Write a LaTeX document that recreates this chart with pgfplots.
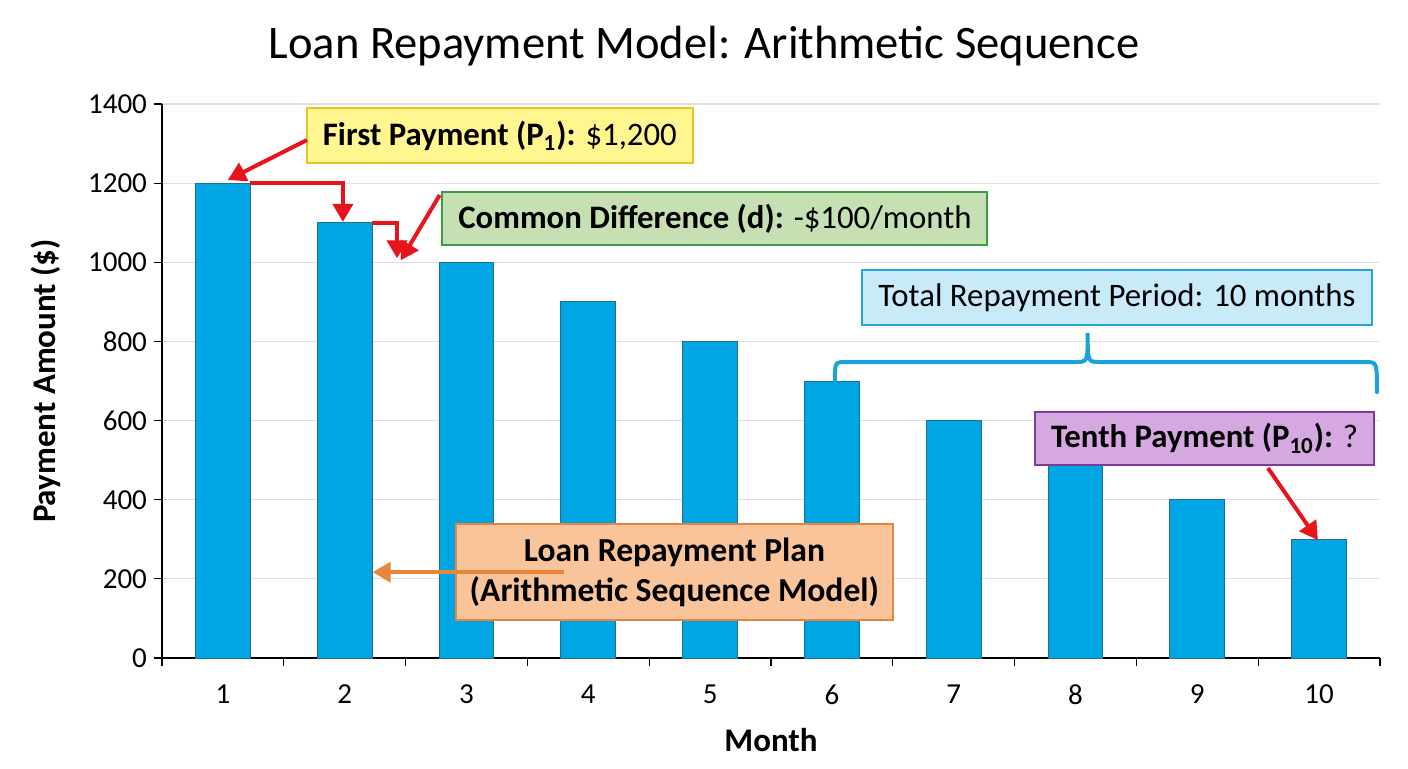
\documentclass[border=0pt]{standalone}
\usepackage{fontspec}
\setmainfont{Carlito}
\usepackage{pgfplots}
\pgfplotsset{compat=1.18}
\usetikzlibrary{arrows.meta}
\definecolor{barblue}{HTML}{00A6E4}
\definecolor{baredge}{HTML}{1F6E9C}
\definecolor{ylwfill}{HTML}{FFF68F}
\definecolor{ylwedge}{HTML}{E8C420}
\definecolor{grnfill}{HTML}{C6E0B4}
\definecolor{grnedge}{HTML}{3A9E47}
\definecolor{bluefill}{HTML}{C9EAF8}
\definecolor{blueedge}{HTML}{2AA5DA}
\definecolor{purpfill}{HTML}{D5A8E2}
\definecolor{purpedge}{HTML}{7D3C98}
\definecolor{orgfill}{HTML}{F9C49A}
\definecolor{orgedge}{HTML}{E8853D}
\definecolor{arrred}{HTML}{E8141B}
\definecolor{bracecol}{HTML}{1BA1DB}
\begin{document}
\begin{tikzpicture}
\path[use as bounding box] (0,0) rectangle (704pt,384pt);
\node[font=\fontsize{23.3}{27}\selectfont] at (352pt,361pt) {Loan Repayment Model: Arithmetic Sequence};
\begin{axis}[
  at={(81pt,55pt)}, anchor=south west,
  scale only axis,
  width=609pt, height=277pt,
  xmin=0.5, xmax=10.5,
  ymin=0, ymax=1400,
  xtick={1,...,10},
  minor xtick={0.5,1.5,...,10.5},
  ytick={0,200,...,1400},
  major x tick style={draw=none},
  minor tick length=4pt,
  major tick length=4pt,
  tick align=outside,
  tick style={black, line width=0.6pt},
  axis x line*=bottom,
  axis y line*=left,
  axis line style={black, line width=0.8pt, -},
  ymajorgrids,
  grid style={gray!25, line width=0.6pt},
  /pgf/number format/assume math mode=true,
  /pgf/number format/1000 sep={},
  ticklabel style={font=\fontsize{14.5}{16}\selectfont},
  xticklabel style={yshift=-6pt},
  xlabel={\textbf{Month}},
  ylabel={\textbf{Payment Amount (\$)}},
  label style={font=\fontsize{16.5}{19}\selectfont},
  xlabel style={yshift=-5pt},
  ylabel style={yshift=7pt},
  clip=false,
]
\addplot[ybar, bar width=0.45, fill=barblue, draw=baredge, line width=0.5pt]
  coordinates {(1,1200) (2,1100) (3,1000) (4,900) (5,800)
               (6,700) (7,600) (8,500) (9,400) (10,300)};

% step arrows between first bars
\draw[arrred, line width=2pt, -{Triangle[length=9pt, width=10pt]}]
  (axis cs:1.225,1200) -- (axis cs:1.985,1200) -- (axis cs:1.985,1102);
\draw[arrred, line width=2pt, -{Triangle[length=9pt, width=10pt]}]
  (axis cs:2.225,1100) -- (axis cs:2.43,1100) -- (axis cs:2.43,1010);

% brace over months 6-10
\draw[bracecol, line width=2pt, line cap=round]
  (axis cs:6.025,702) .. controls (axis cs:6.025,748) .. (axis cs:6.12,748)
  -- (axis cs:8.0,748) .. controls (axis cs:8.1,748) .. (axis cs:8.1,821)
  .. controls (axis cs:8.1,748) .. (axis cs:8.2,748)
  -- (axis cs:10.38,748) .. controls (axis cs:10.475,748) .. (axis cs:10.475,672);

% annotation boxes
\node[fill=ylwfill, draw=ylwedge, line width=1pt, minimum width=193pt, minimum height=27.5pt,
  font=\fontsize{16.4}{19}\selectfont] at (axis cs:3.274,1320)
  {\textbf{First Payment (P\textsubscript{1}):} \$1,200};
\draw[arrred, line width=2pt, -{Triangle[length=9pt, width=10pt]}]
  (axis cs:1.69,1309) -- (axis cs:1.04,1208);

\node[fill=grnfill, draw=grnedge, line width=1pt, minimum width=272.5pt, minimum height=26.5pt,
  font=\fontsize{16.4}{19}\selectfont] at (axis cs:5.04,1111)
  {\textbf{Common Difference (d):} -\$100/month};
\draw[arrred, line width=2pt, -{Triangle[length=9pt, width=10pt]}]
  (axis cs:2.78,1170) -- (axis cs:2.46,1005);

\node[fill=bluefill, draw=blueedge, line width=1pt, minimum width=255pt, minimum height=27.5pt,
  font=\fontsize{16.4}{19}\selectfont] at (axis cs:8.34,911)
  {Total Repayment Period: 10 months};

\node[fill=purpfill, draw=purpedge, line width=1pt, minimum width=169.5pt, minimum height=26.5pt,
  font=\fontsize{16.4}{19}\selectfont] at (axis cs:9.06,555)
  {\textbf{Tenth Payment (P\textsubscript{10}):} ?};
\draw[arrred, line width=2pt, -{Triangle[length=9pt, width=10pt]}]
  (axis cs:9.58,480) -- (axis cs:9.99,298);

\node[fill=orgfill, draw=orgedge, line width=1pt, minimum width=218.5pt, minimum height=48pt,
  align=center, font=\bfseries\fontsize{16.8}{20}\selectfont] at (axis cs:4.707,217)
  {Loan Repayment Plan\\(Arithmetic Sequence Model)};
\draw[orgedge, line width=2pt, -{Triangle[length=9pt, width=10pt]}]
  (axis cs:3.80,217) -- (axis cs:2.23,217);
\end{axis}
\end{tikzpicture}
\end{document}
